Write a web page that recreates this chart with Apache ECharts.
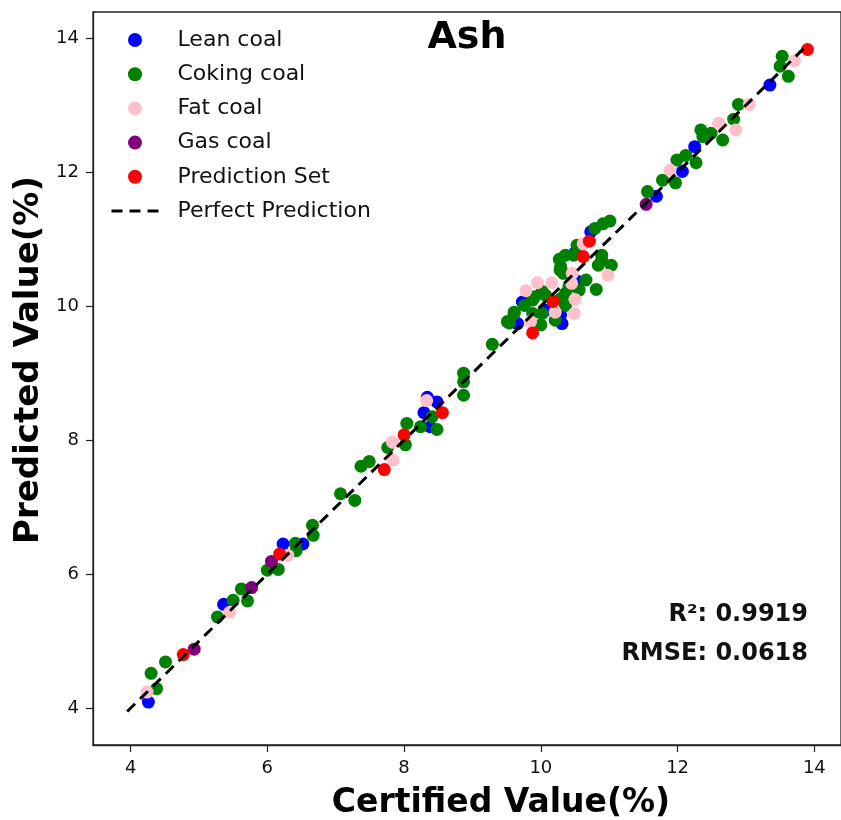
<!DOCTYPE html>
<html>
<head>
<meta charset="utf-8">
<title>Ash</title>
<script src="https://cdn.jsdelivr.net/npm/echarts@6/dist/echarts.min.js"></script>
<style>
  html, body { margin: 0; padding: 0; background: #ffffff; }
  #chart { width: 841px; height: 820px; }
</style>
</head>
<body>
<div id="chart"></div>
<script>
// Certified vs. predicted ash content (%), pairs of [certified, predicted]
const leanCoal = [
  [4.26, 4.09], [5.36, 5.55], [6.23, 6.45], [6.52, 6.45], [8.34, 8.64], [8.48, 8.57],
  [8.29, 8.41], [8.38, 8.20], [9.66, 9.74], [9.73, 10.06], [10.07, 9.94], [10.29, 9.87],
  [10.31, 9.74], [10.52, 10.38], [10.50, 10.80], [10.73, 11.11], [11.69, 11.64],
  [12.07, 12.01], [12.25, 12.38], [13.35, 13.30]
];
const cokingCoal = [
  [4.38, 4.29], [4.30, 4.52], [4.51, 4.69], [5.27, 5.36], [5.50, 5.61], [5.71, 5.60],
  [5.62, 5.78], [6.00, 6.06], [6.16, 6.07], [6.42, 6.35], [6.41, 6.46], [6.66, 6.73],
  [6.67, 6.58], [7.07, 7.20], [7.28, 7.10], [7.37, 7.61], [7.49, 7.68], [7.76, 7.89],
  [8.02, 7.93], [8.04, 8.25], [8.24, 8.20], [8.48, 8.16], [8.41, 8.35], [8.87, 9.00],
  [8.87, 8.87], [8.87, 8.67], [9.29, 9.43], [9.54, 9.75], [9.51, 9.77], [9.61, 9.89],
  [9.61, 9.91], [9.76, 10.01], [9.88, 10.09], [9.91, 10.14], [9.88, 9.89], [10.00, 9.72],
  [10.02, 9.89], [10.02, 10.22], [10.07, 10.16], [10.21, 9.79], [10.29, 10.11],
  [10.36, 10.19], [10.36, 10.01], [10.41, 10.29], [10.33, 10.49], [10.28, 10.54],
  [10.29, 10.59], [10.56, 10.24], [10.66, 10.39], [10.81, 10.25], [10.27, 10.70],
  [10.36, 10.76], [10.48, 10.76], [10.53, 10.91], [10.79, 11.16], [10.91, 11.23],
  [11.01, 11.27], [10.84, 10.61], [10.89, 10.76], [10.89, 10.69], [11.03, 10.61],
  [11.56, 11.71], [11.78, 11.88], [11.97, 11.84], [11.99, 12.18], [12.12, 12.25],
  [12.27, 12.14], [12.34, 12.63], [12.37, 12.53], [12.49, 12.58], [12.66, 12.48],
  [12.82, 12.79], [12.89, 13.01], [13.50, 13.58], [13.53, 13.73], [13.62, 13.43]
];
const fatCoal = [
  [4.24, 4.24], [5.45, 5.43], [6.30, 6.28], [7.84, 7.70], [7.83, 7.97], [8.33, 8.59],
  [9.78, 10.23], [9.95, 10.35], [9.85, 9.77], [10.16, 10.35], [10.21, 9.91],
  [10.45, 10.34], [10.46, 10.49], [10.50, 10.10], [10.49, 9.89], [10.62, 10.93],
  [10.98, 10.46], [11.89, 12.03], [12.60, 12.73], [12.85, 12.63], [13.05, 13.01],
  [13.71, 13.66]
];
const gasCoal = [
  [4.93, 4.88], [5.77, 5.80], [6.06, 6.19], [11.54, 11.52]
];
const predictionSet = [
  [4.77, 4.80], [6.18, 6.30], [7.71, 7.56], [8.00, 8.08], [8.56, 8.41], [9.88, 9.60],
  [10.18, 10.07], [10.62, 10.74], [10.71, 10.97], [13.90, 13.83]
];
// y = x reference line endpoints
const perfectLine = [[3.95, 3.95], [13.90, 13.90]];

const tickValues = [4, 6, 8, 10, 12, 14];
const axisRange = { min: 3.45, max: 14.39 };
const statsLines = ['R\u00b2: 0.9919', 'RMSE: 0.0618'];
const axisTitles = { x: 'Certified Value(%)', y: 'Predicted Value(%)' };

const FONT = "'DejaVu Sans', sans-serif";
const DASH = [11, 7];

const chart = echarts.init(document.getElementById('chart'), null, { renderer: 'canvas' });

function scatterSeries(name, data, color) {
  return {
    name: name,
    type: 'scatter',
    data: data,
    symbol: 'circle',
    symbolSize: 13,
    itemStyle: { color: color, opacity: 1 },
    emphasis: { disabled: true },
    animation: false
  };
}

function valueAxis(labelMargin) {
  return {
    type: 'value',
    min: axisRange.min,
    max: axisRange.max,
    axisLine: { show: true, lineStyle: { color: '#222', width: 1.3 } },
    axisTick: { show: true, length: 7, lineStyle: { color: '#222', width: 1.2 }, customValues: tickValues },
    axisLabel: {
      fontFamily: FONT, fontSize: 18, color: '#111', margin: labelMargin,
      customValues: tickValues,
      formatter: v => String(v)
    },
    splitLine: { show: false }
  };
}

const option = {
  backgroundColor: '#ffffff',
  animation: false,
  grid: {
    left: 93, top: 12, width: 757, bottom: 75,
    show: true, borderColor: '#222', borderWidth: 1.3, backgroundColor: 'transparent'
  },
  xAxis: valueAxis(14),
  yAxis: valueAxis(14),
  legend: {
    orient: 'vertical',
    left: 105,
    top: 24,
    itemWidth: 47,
    itemHeight: 14,
    itemGap: 12.2,
    textStyle: { fontFamily: FONT, fontSize: 22, color: '#111', lineHeight: 22, padding: [0, 0, 0, 14] },
    data: [
      { name: 'Lean coal', icon: 'circle' },
      { name: 'Coking coal', icon: 'circle' },
      { name: 'Fat coal', icon: 'circle' },
      { name: 'Gas coal', icon: 'circle' },
      { name: 'Prediction Set', icon: 'circle' },
      // dashed line only, no marker dot
      {
        name: 'Perfect Prediction',
        itemStyle: { opacity: 0, color: 'rgba(0,0,0,0)', borderWidth: 0 },
        lineStyle: { color: '#000', width: 3, type: DASH }
      }
    ]
  },
  graphic: [
    {
      type: 'text', x: 467, y: 38,
      style: { text: 'Ash', font: "bold 38px 'DejaVu Sans', sans-serif", fill: '#000',
               textAlign: 'center', textVerticalAlign: 'middle' }
    },
    {
      type: 'text', x: 501, y: 803,
      style: { text: axisTitles.x, font: "bold 33px 'DejaVu Sans', sans-serif", fill: '#000',
               textAlign: 'center', textVerticalAlign: 'middle' }
    },
    {
      type: 'text', x: 29, y: 360, rotation: Math.PI / 2,
      style: { text: axisTitles.y, font: "bold 34px 'DejaVu Sans', sans-serif", fill: '#000',
               textAlign: 'center', textVerticalAlign: 'middle' }
    },
    {
      type: 'text', x: 808, y: 615,
      style: { text: statsLines[0], font: "bold 24px 'DejaVu Sans', sans-serif", fill: '#111',
               textAlign: 'right', textVerticalAlign: 'middle' }
    },
    {
      type: 'text', x: 808, y: 654,
      style: { text: statsLines[1], font: "bold 24px 'DejaVu Sans', sans-serif", fill: '#111',
               textAlign: 'right', textVerticalAlign: 'middle' }
    }
  ],
  series: [
    scatterSeries('Lean coal', leanCoal, '#0000ff'),
    scatterSeries('Coking coal', cokingCoal, '#008000'),
    scatterSeries('Fat coal', fatCoal, '#ffc0cb'),
    scatterSeries('Gas coal', gasCoal, '#800080'),
    scatterSeries('Prediction Set', predictionSet, '#ff0000'),
    {
      name: 'Perfect Prediction',
      type: 'line',
      data: perfectLine,
      symbol: 'none',
      z: 5,
      lineStyle: { color: '#000', width: 3, type: DASH },
      itemStyle: { color: '#000' },
      emphasis: { disabled: true },
      animation: false
    }
  ]
};

chart.setOption(option);
</script>
</body>
</html>
